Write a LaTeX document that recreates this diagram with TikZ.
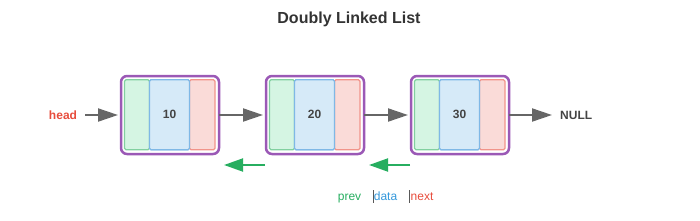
\documentclass[tikz,border=0pt]{standalone}
\usepackage{fontspec}
\setmainfont{Liberation Sans}
\usetikzlibrary{arrows.meta,calc}
\definecolor{purp}{HTML}{9B59B6}
\definecolor{pfill}{HTML}{D5F5E3}
\definecolor{pline}{HTML}{82D0A0}
\definecolor{dfill}{HTML}{D6EAF8}
\definecolor{dline}{HTML}{7FB8E6}
\definecolor{nfill}{HTML}{FADBD8}
\definecolor{nline}{HTML}{F1948A}
\definecolor{txt}{HTML}{444444}
\definecolor{titc}{HTML}{333333}
\definecolor{arrg}{HTML}{666666}
\definecolor{grn}{HTML}{27AE60}
\definecolor{redc}{HTML}{E74C3C}
\definecolor{bluc}{HTML}{3498DB}
\begin{document}
\begin{tikzpicture}[x=1pt,y=-1pt,
  outerbox/.style={draw=purp, line width=2.5pt, rounded corners=6pt, fill=white,
    minimum width=98pt, minimum height=78pt, inner sep=0pt, outer sep=0pt},
  cellbase/.style={line width=1.3pt, rounded corners=1.5pt, minimum height=70pt, inner sep=0pt, outer sep=0pt},
  cellp/.style={cellbase, draw=pline, fill=pfill, minimum width=25pt},
  celld/.style={cellbase, draw=dline, fill=dfill, minimum width=40pt,
    font=\bfseries\fontsize{12}{14}\selectfont, text=txt},
  celln/.style={cellbase, draw=nline, fill=nfill, minimum width=25.5pt},
  garrow/.style={draw=arrg, line width=2pt, -{Triangle[length=20pt,width=13pt]}},
  backarrow/.style={draw=grn, line width=2pt, -{Triangle[length=19pt,width=13pt]}},
  lbl/.style={font=\bfseries\fontsize{12}{14}\selectfont, inner sep=0pt},
  legend/.style={font=\fontsize{12}{14}\selectfont, inner sep=0pt, anchor=base},
  tick/.style={draw=black!65, line width=0.8pt}
]
\useasboundingbox (0,0) rectangle (700,220);
\node[font=\bfseries\fontsize{16}{19}\selectfont, text=titc] (title) at (349,19) {Doubly Linked List};

\foreach \i/\x/\v in {1/170/10,2/315/20,3/460/30}{
  \node[outerbox] (n\i) at (\x,115) {};
  \node[celld] (n\i d) at (\x-0.5,114.75) {\v};
  \node[cellp, anchor=east] (n\i p) at (n\i d.west) {};
  \node[celln, anchor=west] (n\i n) at (n\i d.east) {};
  \node[celld] at (\x-0.5,114.75) {\v};
}

\node[lbl, text=redc] (head) at (63,115) {head};
\node[lbl, text=txt, anchor=west] (null) at (560,115) {NULL};

\draw[garrow, shorten >=3pt] ([xshift=8pt]head.east) -- (n1.west);
\draw[garrow, shorten >=3pt] (n1.east) -- (n2.west);
\draw[garrow, shorten >=3pt] (n2.east) -- (n3.west);
\draw[garrow, shorten >=8pt] (n3.east) -- (null.west);

\coordinate (g1s) at (265,165);
\coordinate (g1e) at (224,165);
\coordinate (g2s) at (410,165);
\coordinate (g2e) at (369,165);
\draw[backarrow] (g1s) -- (g1e);
\draw[backarrow] (g2s) -- (g2e);

\node[legend, text=grn] (lp) at (349.5,200.5) {prev};
\node[legend, text=bluc] (ld) at (385.5,200.5) {data};
\node[legend, text=redc] (ln) at (422,200.5) {next};
\draw[tick] (373.5,190) -- (373.5,203);
\draw[tick] (409.8,190) -- (409.8,203);
\end{tikzpicture}
\end{document}
